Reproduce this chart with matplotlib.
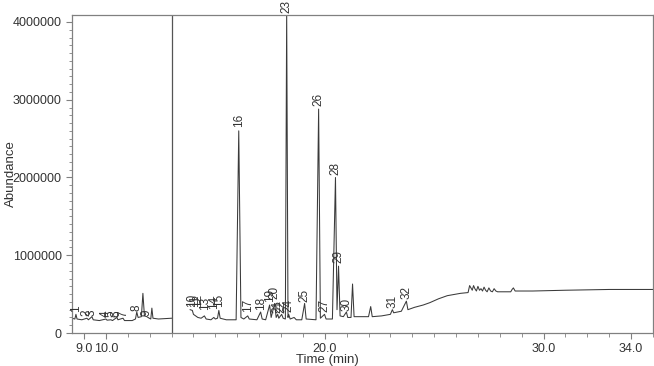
import numpy as np
import matplotlib.pyplot as plt
from matplotlib.ticker import MultipleLocator, FixedLocator

plt.rcParams["font.family"] = ["Liberation Sans", "DejaVu Sans"]

# chromatogram trace vertices (time in min, abundance in millions); nan splits segments
trace_time = [
    8.45, 8.58, 8.63, 8.68, 8.9, 9.13, 9.2, 9.36, 9.42, 9.7, 10.0, 10.05, 10.23, 10.3,
    10.5, 10.55, 10.78, 10.85, 11.2, 11.35, 11.41, 11.47, 11.62, 11.69, 11.76, 11.87,
    11.98, 12.05, 12.1, 12.15, 12.4, 13.0,
    13.0,
    13.85, 13.95, 14.0, 14.1, 14.2, 14.35, 14.5, 14.58, 14.8, 14.93, 15.0, 15.1, 15.16,
    15.22, 15.5, 15.95, 16.07, 16.17, 16.3, 16.48, 16.55, 16.9, 17.07, 17.14, 17.3, 17.48,
    17.55, 17.71, 17.78, 17.85, 17.9, 18.03, 18.1, 18.2, 18.26, 18.32, 18.35, 18.42, 18.6,
    18.7, 18.95, 19.08, 19.15, 19.6, 19.72, 19.8, 19.99, 20.06, 20.35, 20.49, 20.56, 20.63,
    20.7, 20.85, 20.99, 21.05, 21.2, 21.27, 21.34, 22.0, 22.1, 22.17, 22.6, 23.0, 23.09,
    23.15, 23.5, 23.73, 23.8, 24.1, 24.5, 24.8, 25.2, 25.6, 26.2, 26.55,
    26.62, 26.68, 26.74, 26.8, 26.86, 26.93, 27.0, 27.07, 27.14, 27.21, 27.28, 27.35,
    27.42, 27.5, 27.58, 27.66, 27.74, 27.82, 27.9, 28.0, 28.5,
    28.56, 28.62, 28.7, 29.5, 31.0, 33.0, 35.0,
]
trace_abund = [
    0.19, 0.18, 0.24, 0.18, 0.17, 0.19, 0.17, 0.21, 0.17, 0.16, 0.18, 0.165, 0.17, 0.16,
    0.2, 0.17, 0.19, 0.16, 0.16, 0.18, 0.27, 0.2, 0.21, 0.51, 0.22, 0.21,
    0.19, 0.18, 0.32, 0.19, 0.18, 0.19,
    np.nan,
    0.30, 0.29, 0.24, 0.22, 0.2, 0.19, 0.22, 0.18, 0.17, 0.2, 0.18, 0.19, 0.29,
    0.19, 0.17, 0.17, 2.6, 0.2, 0.18, 0.22, 0.18, 0.17, 0.27, 0.18, 0.17, 0.36,
    0.2, 0.38, 0.2, 0.24, 0.19, 0.24, 0.19, 0.18, 4.12, 0.2, 0.24, 0.18, 0.2,
    0.17, 0.17, 0.38, 0.18, 0.17, 2.88, 0.19, 0.24, 0.18, 0.18, 2.0, 0.3, 0.86,
    0.22, 0.21, 0.27, 0.2, 0.2, 0.63, 0.21, 0.21, 0.34, 0.21, 0.22, 0.24, 0.3,
    0.26, 0.28, 0.41, 0.3, 0.33, 0.36, 0.39, 0.44, 0.48, 0.51, 0.52,
    0.61, 0.58, 0.55, 0.61, 0.57, 0.54, 0.6, 0.55, 0.57, 0.54, 0.59, 0.55,
    0.53, 0.58, 0.54, 0.53, 0.57, 0.54, 0.53, 0.53, 0.53,
    0.56, 0.58, 0.54, 0.54, 0.55, 0.56, 0.56,
]

# peak numbers and where their labels sit (time, abundance in millions)
peak_ids = list(range(1, 33))
peak_time = [
    8.63, 9.13, 9.36, 10.0, 10.23, 10.5, 10.78, 11.41, 11.87,
    13.92, 14.06, 14.2, 14.52, 14.93, 15.16, 16.07, 16.48, 17.07, 17.48, 17.71,
    17.85, 18.03, 18.26, 18.35, 19.08, 19.72, 19.99, 20.49, 20.63, 20.99, 23.09, 23.73,
]
label_abund = [
    0.27, 0.22, 0.22, 0.21, 0.21, 0.21, 0.21, 0.28, 0.22,
    0.33, 0.33, 0.33, 0.30, 0.31, 0.33, 2.65, 0.27, 0.30, 0.40, 0.44,
    0.26, 0.26, 4.12, 0.27, 0.40, 2.92, 0.27, 2.03, 0.90, 0.28, 0.32, 0.44,
]

x_major = [9.0, 10.0, 20.0, 30.0, 34.0]
y_major = [0, 1000000, 2000000, 3000000, 4000000]
segment_break = 13.0

fig = plt.figure(figsize=(6.54, 3.66), dpi=100)
ax = fig.add_axes([72 / 654, 1 - 333 / 366, 581 / 654, 318 / 366])

ax.plot(trace_time, np.array(trace_abund) * 1e6, color="#3a3a3a", lw=0.75)
ax.axvline(segment_break, color="#555555", lw=0.9)

for pid, t, a in zip(peak_ids, peak_time, label_abund):
    ax.text(t, a * 1e6, str(pid), rotation=90, ha="center", va="bottom",
            fontsize=8.5, color="#333333", clip_on=False)

ax.set_xlim(8.45, 35.0)
ax.set_ylim(0, 4.09e6)
ax.xaxis.set_major_locator(FixedLocator(x_major))
ax.set_xticklabels([f"{v:.1f}" for v in x_major])
ax.xaxis.set_minor_locator(MultipleLocator(1))
ax.yaxis.set_major_locator(FixedLocator(y_major))
ax.set_yticklabels([str(v) for v in y_major])
ax.yaxis.set_minor_locator(MultipleLocator(100000))

for s in ax.spines.values():
    s.set_color("#808080")
    s.set_linewidth(0.9)
ax.tick_params(which="both", color="#808080", labelsize=9, labelcolor="#333333")
ax.tick_params(which="major", length=4)
ax.tick_params(which="minor", length=3)
ax.tick_params(axis="y", which="minor", length=2)

ax.set_xlabel("Time (min)", fontsize=9.5, color="#333333", labelpad=1)
ax.xaxis.set_label_coords(0.439, -0.065)
ax.set_ylabel("Abundance", fontsize=9.5, color="#333333")
ax.yaxis.set_label_coords(-0.094, 0.5)

fig.savefig("out.png", dpi=100)
